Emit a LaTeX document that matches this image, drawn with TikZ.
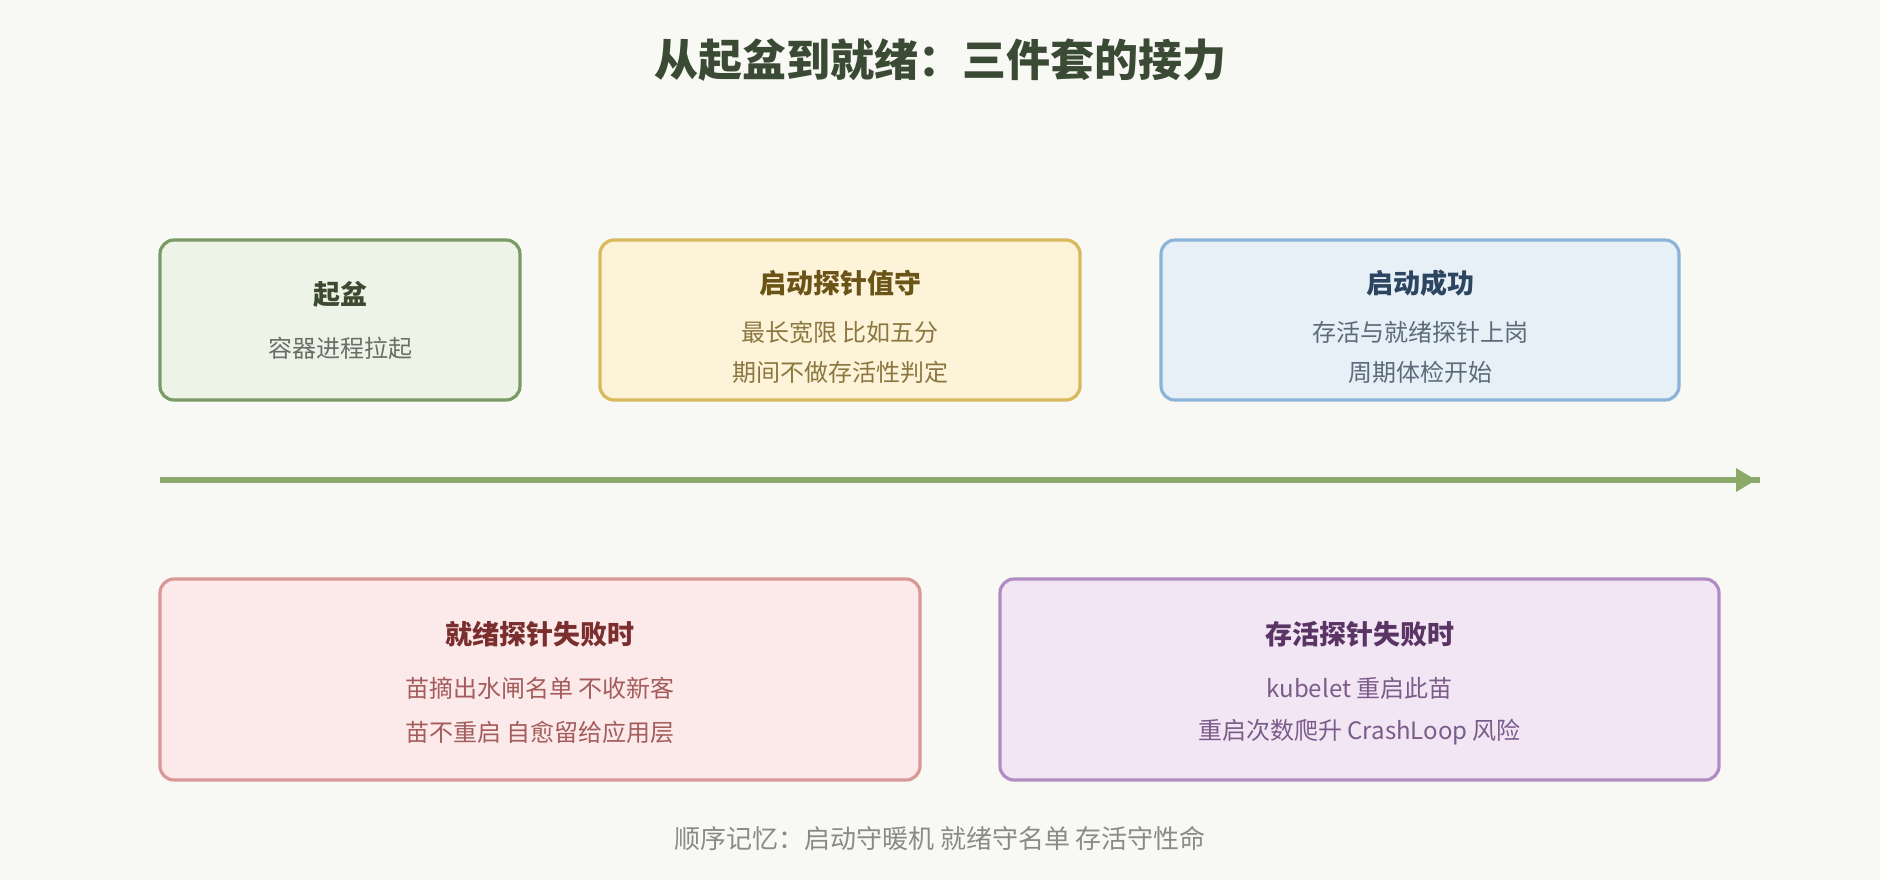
\documentclass[tikz,border=0pt]{standalone}
\usepackage{fontspec}
\setmainfont{Noto Sans CJK SC}
\definecolor{bg}{HTML}{F8F9F4}
\definecolor{titlec}{HTML}{3B4A35}
\definecolor{gfill}{HTML}{EEF3E8}\definecolor{gline}{HTML}{7A9A65}\definecolor{ghead}{HTML}{3B4A30}\definecolor{gbody}{HTML}{6A6E66}
\definecolor{yfill}{HTML}{FDF3D8}\definecolor{yline}{HTML}{D9B95C}\definecolor{yhead}{HTML}{6B5418}\definecolor{ybody}{HTML}{8B7740}
\definecolor{bfill}{HTML}{E7EFF7}\definecolor{bline}{HTML}{8CB4D8}\definecolor{bhead}{HTML}{2C4560}\definecolor{bbody}{HTML}{5C6B7A}
\definecolor{rfill}{HTML}{FCE9E9}\definecolor{rline}{HTML}{D89898}\definecolor{rhead}{HTML}{7A2E2E}\definecolor{rbody}{HTML}{A45C5C}
\definecolor{pfill}{HTML}{F3E6F4}\definecolor{pline}{HTML}{B08CC2}\definecolor{phead}{HTML}{5A3464}\definecolor{pbody}{HTML}{7A5C8A}
\definecolor{arrowc}{HTML}{8BA96A}
\definecolor{footc}{HTML}{8A8A86}
\tikzset{
  card/.style={draw, rounded corners=7pt, line width=1.6pt, inner sep=0pt},
  head/.style={font=\bfseries\fontsize{13.5pt}{16pt}\selectfont, inner sep=0pt, anchor=center},
  body/.style={font=\fontsize{12pt}{14pt}\selectfont, inner sep=0pt, anchor=center},
}
\begin{document}
\begin{tikzpicture}[x=0.5pt,y=-0.5pt]
\useasboundingbox (0,0) rectangle (1880,880);
\fill[bg] (0,0) rectangle (1880,880);
\node[font=\bfseries\fontsize{22pt}{26pt}\selectfont, text=titlec, inner sep=0pt] (title) at (940,60) {从起盆到就绪：三件套的接力};
% top cards
\node[card, fill=gfill, draw=gline, minimum width=180pt, minimum height=80pt] (c1) at (340,320) {};
\node[card, fill=yfill, draw=yline, minimum width=240pt, minimum height=80pt] (c2) at (840,320) {};
\node[card, fill=bfill, draw=bline, minimum width=259pt, minimum height=80pt] (c3) at (1420,320) {};
\node[head, text=ghead] (h1) at (340,294) {起盆};
\node[body, text=gbody] (b1) at (340,348) {容器进程拉起};
\node[head, text=yhead] (h2) at (840,283) {启动探针值守};
\node[body, text=ybody] (b2a) at (840,332) {最长宽限 比如五分};
\node[body, text=ybody] (b2b) at (840,372) {期间不做存活性判定};
\node[head, text=bhead] (h3) at (1420,283) {启动成功};
\node[body, text=bbody] (b3a) at (1420,332) {存活与就绪探针上岗};
\node[body, text=bbody] (b3b) at (1420,372) {周期体检开始};
% timeline
\coordinate (t0) at (160,480);
\coordinate (t1) at (1760,480);
\coordinate (tb) at (1736,480);
\draw[arrowc, line width=2.75pt] (t0) -- (t1);
\fill[arrowc] ([yshift=6pt]tb) -- ([xshift=10pt]tb) -- ([yshift=-6pt]tb) -- cycle;
% bottom cards
\node[card, fill=rfill, draw=rline, minimum width=380pt, minimum height=100.5pt] (c4) at (540,679.5) {};
\node[card, fill=pfill, draw=pline, minimum width=359.5pt, minimum height=100.5pt] (c5) at (1359.5,679.5) {};
\node[head, text=rhead] (h4) at (540,634) {就绪探针失败时};
\node[body, text=rbody] (b4a) at (540,688) {苗摘出水闸名单 不收新客};
\node[body, text=rbody] (b4b) at (540,732) {苗不重启 自愈留给应用层};
\node[head, text=phead] (h5) at (1359.5,634) {存活探针失败时};
\node[body, text=pbody] (b5a) at (1359.5,688) {kubelet 重启此苗};
\node[body, text=pbody] (b5b) at (1359.5,732) {重启次数爬升 CrashLoop 风险};
\node[font=\fontsize{13pt}{15pt}\selectfont, text=footc, inner sep=0pt] (foot) at (940,838) {顺序记忆：启动守暖机 就绪守名单 存活守性命};
\end{tikzpicture}
\end{document}
